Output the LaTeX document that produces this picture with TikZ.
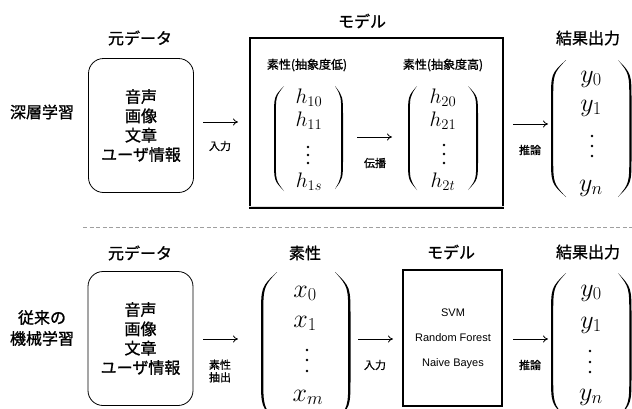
\RequirePackage{fix-cm}
\documentclass[tikz,border=0pt]{standalone}
\usepackage{fontspec}
\newfontfamily\jp[FakeBold=1.1]{Noto Sans CJK JP}
\setsansfont{Liberation Sans}
\usetikzlibrary{arrows.meta}
% left/right parenthesis drawn as a filled shape: tip x, bulge x, top y, bottom y, signed thickness
\newcommand\drawparen[5]{%
  \fill (#1,#3) .. controls (#2,{#3+0.1*(#4-#3)}) .. (#2,{#3+0.3*(#4-#3)})
    -- (#2,{#4-0.3*(#4-#3)}) .. controls (#2,{#4-0.1*(#4-#3)}) .. (#1,#4)
    .. controls ({#2+#5},{#4-0.1*(#4-#3)}) .. ({#2+#5},{#4-0.3*(#4-#3)})
    -- ({#2+#5},{#3+0.3*(#4-#3)}) .. controls ({#2+#5},{#3+0.1*(#4-#3)}) .. (#1,#3) -- cycle;}
\newcommand\threedots[4]{% x, y1, y2, y3
  \fill (#1,#2) circle[radius=1.4pt];
  \fill (#1,#3) circle[radius=1.4pt];
  \fill (#1,#4) circle[radius=1.4pt];}
\begin{document}
\begin{tikzpicture}[x=1pt,y=-1pt,
  lbl/.style={font=\jp\fontsize{16}{21}\selectfont, inner sep=0pt, align=center},
  small/.style={font=\jp\fontsize{11}{12.5}\selectfont, inner sep=0pt, align=center},
  feat/.style={font=\jp\fontsize{12}{14}\selectfont, inner sep=0pt},
  srcbox/.style={draw, line width=0.8pt, rounded corners=15pt, minimum width=105pt,
    minimum height=134pt, align=center, font=\jp\fontsize{16}{19.3}\selectfont},
  modelbox/.style={draw, line width=2.3pt, inner sep=0pt},
  algo/.style={font=\sffamily\fontsize{11}{12}\selectfont, inner sep=0pt},
  arr/.style={-{To[length=5pt,width=7pt]}, line width=0.8pt},
  hent/.style={font=\fontsize{21}{25}\selectfont, inner sep=0pt, anchor=base},
  bent/.style={font=\fontsize{26}{30}\selectfont, inner sep=0pt, anchor=base},
  sep/.style={draw=gray!75, line width=0.8pt, dash pattern=on 4pt off 2.5pt}
]
\useasboundingbox (0,0) rectangle (632,408);
\clip (0,0) rectangle (632,408);

% ---------------- top row: deep learning ----------------
\node[lbl] (dl) at (42,112) {深層学習};
\node[lbl] (src1t) at (140,38) {元データ};
\node[srcbox] (src1) at (141,125.5) {音声\\画像\\文章\\ユーザ情報};

\node[lbl] (mod1t) at (362,21) {モデル};
\node[modelbox, minimum width=253pt, minimum height=170pt] (mod1) at (376.5,123) {};
\draw[gray!25, line width=1pt] (mod1.south west) ++(0,-2.5) coordinate (sh1) -- (sh1 -| mod1.south east);

\node[feat] (f1t) at (307,65) {素性(抽象度低)};
\drawparen{284}{274}{86}{191}{1.8}
\drawparen{335}{343}{86}{189}{-1.8}
\node[hent] (h10) at (309,103) {$h_{10}$};
\node[hent] (h11) at (309,126) {$h_{11}$};
\threedots{308}{147}{155}{163}
\node[hent] (h1s) at (309,187) {$h_{1s}$};

\node[feat] (f2t) at (443,65) {素性(抽象度高)};
\drawparen{417}{408}{86}{190}{1.8}
\drawparen{468}{478}{86}{190}{-1.8}
\node[hent] (h20) at (443,103) {$h_{20}$};
\node[hent] (h21) at (443,126) {$h_{21}$};
\threedots{444}{145}{154}{163}
\node[hent] (h2t) at (443,187) {$h_{2t}$};

\node[lbl] (res1t) at (588,38) {結果出力};
\drawparen{566}{551}{60}{197}{2.2}
\drawparen{618}{631.5}{60}{197}{-2.2}
\node[bent] (y10) at (591,82) {$y_0$};
\node[bent] (y11) at (591,111) {$y_1$};
\threedots{592}{136}{146}{156}
\node[bent] (y1n) at (591,191) {$y_n$};

\coordinate (a1s) at (203,122); \coordinate (a1e) at (238,122);
\draw[arr] (a1s) -- (a1e);
\node[small] (l1) at (220,146) {入力};
\coordinate (a2s) at (357,137); \coordinate (a2e) at (392,137);
\draw[arr] (a2s) -- (a2e);
\node[small] (l2) at (375,163) {伝播};
\coordinate (a3s) at (513,124); \coordinate (a3e) at (548,124);
\draw[arr] (a3s) -- (a3e);
\node[small] (l3) at (530,150) {推論};

% separator
\coordinate (sepL) at (83,227.5); \coordinate (sepR) at (632,227.5);
\draw[sep] (sepL) -- (sepR);

% ---------------- bottom row: classical ML ----------------
\node[lbl] (ml) at (42,328) {従来の\\機械学習};
\node[lbl] (src2t) at (140,253) {元データ};
\node[srcbox] (src2) at (140.5,338.5) {音声\\画像\\文章\\ユーザ情報};

\node[lbl] (f3t) at (305,253) {素性};
\drawparen{277}{261}{272}{422}{2.3}
\drawparen{335}{350.5}{272}{422}{-2.3}
\node[bent] (x0) at (305,297) {$x_0$};
\node[bent] (x1) at (305,327) {$x_1$};
\threedots{307}{350}{360}{371}
\node[bent] (xm) at (308,401) {$x_m$};

\node[lbl] (mod2t) at (451,252) {モデル};
\node[modelbox, minimum width=99pt, minimum height=136pt] (mod2) at (452.5,338) {};
\node[algo] (svm) at (453,313) {SVM};
\node[algo] (rf) at (453,338) {Random Forest};
\node[algo] (nb) at (453,364) {Naive Bayes};

\node[lbl] (res2t) at (588,252) {結果出力};
\drawparen{566}{551}{273}{418}{2.2}
\drawparen{618}{631.5}{273}{418}{-2.2}
\node[bent] (y20) at (591,296) {$y_0$};
\node[bent] (y21) at (591,328) {$y_1$};
\threedots{590}{351}{362}{372}
\node[bent] (y2n) at (591,400) {$y_n$};

\coordinate (b1s) at (203,339); \coordinate (b1e) at (238,339);
\draw[arr] (b1s) -- (b1e);
\node[small] (m1) at (220,371) {素性\\抽出};
\coordinate (b2s) at (358,339); \coordinate (b2e) at (393,339);
\draw[arr] (b2s) -- (b2e);
\node[small] (m2) at (375,365) {入力};
\coordinate (b3s) at (513,339); \coordinate (b3e) at (548,339);
\draw[arr] (b3s) -- (b3e);
\node[small] (m3) at (530,365) {推論};
\end{tikzpicture}
\end{document}
